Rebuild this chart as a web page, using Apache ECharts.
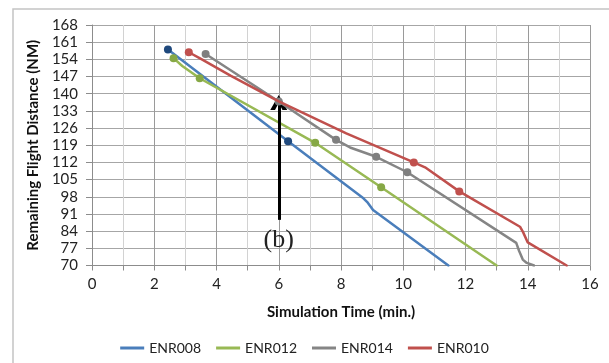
<!DOCTYPE html>
<html>
<head>
<meta charset="utf-8">
<script src="https://cdn.jsdelivr.net/npm/echarts@6/dist/echarts.min.js"></script>
<style>html,body{margin:0;padding:0;background:#fff;}#c{width:609px;height:363px;}</style>
</head>
<body>
<div id="c"></div>
<script>
// ---- data (time in minutes, remaining distance in NM) ----
var seriesNames = ['ENR008', 'ENR012', 'ENR014', 'ENR010'];
var enr008 = [[2.44,158.0],[6.30,120.6],[8.72,97.4],[8.86,95.6],[9.03,92.6],[11.45,70]];
var enr008Markers = [0, 1];
var enr012 = [[2.62,154.5],[2.9,151.3],[3.46,146.3],[7.17,120.0],[9.29,101.9],[13.0,70]];
var enr012Markers = [0, 2, 3, 4];
var enr014 = [[3.65,156.2],[6.0,136.8],[7.84,121.2],[8.29,118.1],[9.13,114.3],[10.13,108.0],[13.63,79.2],[13.72,76.0],[13.84,72.4],[13.95,71.2],[14.2,70]];
var enr014Markers = [0, 1, 2, 4, 5];
var enr010 = [[3.11,156.9],[3.5,154.2],[4.45,147.4],[6.0,136.9],[8.17,123.8],[10.34,112.0],[10.7,110.0],[11.8,100.2],[13.75,85.8],[13.85,83.6],[14.0,79.4],[15.25,70]];
var enr010Markers = [0, 5, 7];
var xTicks = [0, 2, 4, 6, 8, 10, 12, 14, 16];
var yTicks = [70, 77, 84, 91, 98, 105, 112, 119, 126, 133, 140, 147, 154, 161, 168];
var annotationX = 6, annotationFrom = 88.6, annotationTo = 136.4, annotationText = '(b)';

var lineColors = ['#4a7ebb', '#98b954', '#858585', '#c0504d'];
var markerColors = ['#1f497d', '#86a845', '#7f7f7f', '#c0504d'];

function build(points, markers, idx) {
  return points.map(function (p, i) {
    var has = markers.indexOf(i) >= 0;
    return {value: p, symbol: has ? 'circle' : 'none', symbolSize: 8,
            itemStyle: {color: markerColors[idx]}};
  });
}
var allPts = [enr008, enr012, enr014, enr010];
var allMk = [enr008Markers, enr012Markers, enr014Markers, enr010Markers];
var font = 'Lato, "Open Sans", sans-serif';
var chevron = 'path://M0,10 L5,0 L10,10 L7.2,10 L5,5.2 L2.8,10 Z';

var series = seriesNames.map(function (n, i) {
  return {
    name: n, type: 'line', data: build(allPts[i], allMk[i], i),
    smooth: false, showAllSymbol: true,
    lineStyle: {color: lineColors[i], width: 2.5, join: 'round', cap: 'round'},
    itemStyle: {color: lineColors[i]},
    z: 3 + i, emphasis: {disabled: true}
  };
});
series[2].markLine = {
  silent: true, animation: false,
  symbol: ['none', chevron], symbolSize: [17, 15],
  lineStyle: {color: '#000', width: 3, type: 'solid'},
  label: {show: true, position: 'start', formatter: annotationText, distance: 7,
          fontFamily: '"Liberation Serif", "DejaVu Serif", serif', fontSize: 26, color: '#222'},
  emphasis: {disabled: true},
  data: [[{coord: [annotationX, annotationFrom]}, {coord: [annotationX, annotationTo]}]]
};

var chart = echarts.init(document.getElementById('c'), null, {renderer: 'canvas'});
chart.setOption({
  animation: false,
  backgroundColor: '#fff',
  grid: {left: 92, right: 19, top: 25, bottom: 97.5, containLabel: false},
  graphic: [{type: 'rect', shape: {x: 13, y: 9, width: 640, height: 400},
             style: {fill: 'none', stroke: '#c4c4c4', lineWidth: 1.5}, silent: true, z: -1}],
  legend: {
    data: seriesNames, bottom: 3, left: 'center', itemGap: 15,
    icon: 'rect', itemWidth: 24, itemHeight: 3,
    textStyle: {fontFamily: font, fontSize: 14, color: '#222'}
  },
  xAxis: {
    type: 'value', min: xTicks[0], max: xTicks[xTicks.length - 1], interval: 2,
    name: 'Simulation Time (min.)', nameLocation: 'middle', nameGap: 39,
    nameTextStyle: {fontFamily: font, fontSize: 15, fontWeight: 'bold', color: '#111'},
    axisLine: {show: true, lineStyle: {color: '#8c8c8c', width: 1}},
    axisTick: {show: true, length: 5, lineStyle: {color: '#8c8c8c'}},
    minorTick: {show: true, splitNumber: 2, length: 5, lineStyle: {color: '#8c8c8c'}},
    axisLabel: {fontFamily: font, fontSize: 15, color: '#222', margin: 11},
    splitLine: {show: true, lineStyle: {color: '#9a9a9a', width: 1}},
    minorSplitLine: {show: true, lineStyle: {color: '#d2d2d2', width: 1}}
  },
  yAxis: {
    type: 'value', min: yTicks[0], max: yTicks[yTicks.length - 1], interval: 7,
    name: 'Remaining Flight Distance (NM)', nameLocation: 'middle', nameGap: 45,
    nameTextStyle: {fontFamily: font, fontSize: 15, fontWeight: 'bold', color: '#111'},
    axisLine: {show: true, lineStyle: {color: '#8c8c8c', width: 1}},
    axisTick: {show: true, length: 6, lineStyle: {color: '#8c8c8c'}},
    axisLabel: {fontFamily: font, fontSize: 15, color: '#222', margin: 14},
    splitLine: {show: true, lineStyle: {color: '#a6a6a6', width: 1}}
  },
  series: series
});
</script>
</body>
</html>
